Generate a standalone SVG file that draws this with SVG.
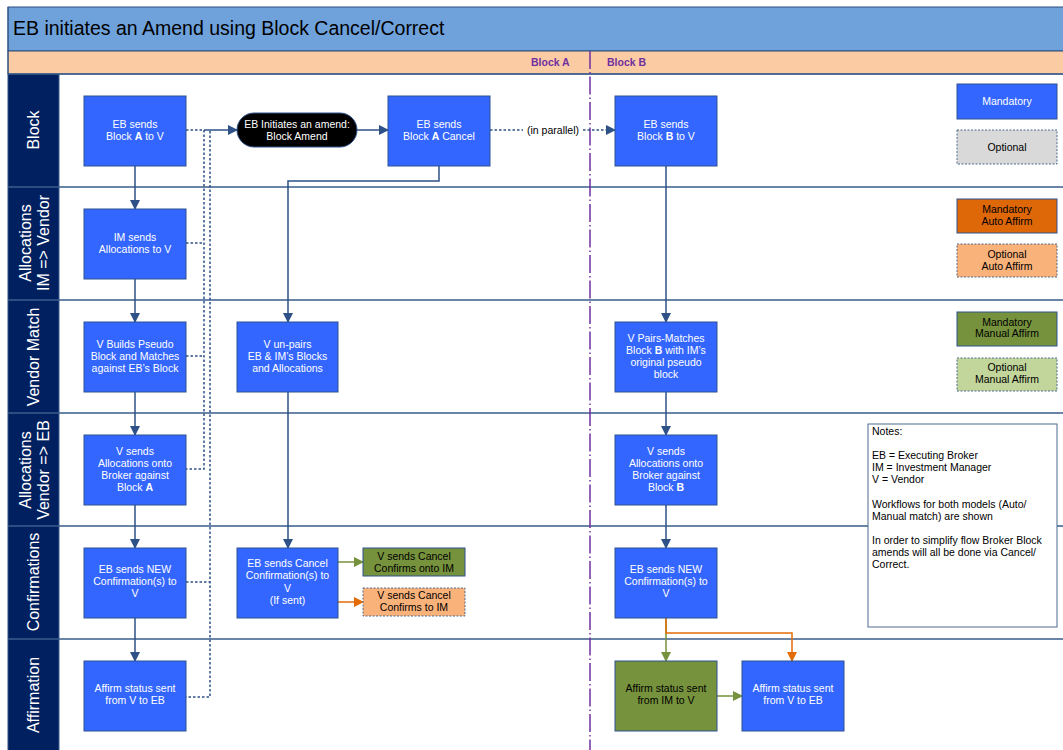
<svg xmlns="http://www.w3.org/2000/svg" width="1063" height="750" viewBox="0 0 1063 750">
<style>
text{font-family:"Liberation Sans",Arial,sans-serif}
.n{fill:#3366FF;stroke:#2F528F;stroke-width:1}
.nt{fill:#FFFFFF;font-size:10.5px;text-anchor:middle}
.bt{fill:#000000;font-size:10.5px;text-anchor:middle}
.lane{stroke:#3A5C8C;stroke-width:1.5}
.ll{fill:#FFFFFF;font-size:16px;text-anchor:middle}
.c{fill:none;stroke:#2E5287;stroke-width:1.5}
.d{fill:none;stroke:#2E5287;stroke-width:1.5;stroke-dasharray:2.5,2}
.nb{fill:#000;font-size:10.5px}
</style>
<defs>
<marker id="ah" markerWidth="10" markerHeight="10" refX="9" refY="5" orient="auto" markerUnits="userSpaceOnUse"><path d="M0,0 L10,5 L0,10 z" fill="#2E5287"/></marker>
<marker id="ag" markerWidth="10" markerHeight="10" refX="9" refY="5" orient="auto" markerUnits="userSpaceOnUse"><path d="M0,0 L10,5 L0,10 z" fill="#76923C"/></marker>
<marker id="ao" markerWidth="10" markerHeight="10" refX="9" refY="5" orient="auto" markerUnits="userSpaceOnUse"><path d="M0,0 L10,5 L0,10 z" fill="#E36C09"/></marker>
</defs>
<rect x="0" y="0" width="1063" height="750" fill="#FFFFFF"/>
<!-- title + header -->
<rect x="8" y="7" width="1060" height="44" fill="#6FA2DB" stroke="#2F4F7F" stroke-width="1"/>
<text x="13" y="35" font-size="19.5" fill="#000">EB initiates an Amend using Block Cancel/Correct</text>
<rect x="8" y="51" width="1060" height="23" fill="#FBCBA4" stroke="#2F4F7F" stroke-width="1"/>
<text x="531" y="66" font-size="10.5" font-weight="bold" fill="#7030A0">Block A</text>
<text x="607" y="66" font-size="10.5" font-weight="bold" fill="#7030A0">Block B</text>
<!-- lane labels -->
<rect x="8" y="74" width="51" height="680" fill="#002060"/>
<g id="lanes">
<line class="lane" x1="8" y1="74" x2="1063" y2="74"/>
<line class="lane" x1="8" y1="187" x2="1063" y2="187"/>
<line class="lane" x1="8" y1="300" x2="1063" y2="300"/>
<line class="lane" x1="8" y1="413" x2="1063" y2="413"/>
<line class="lane" x1="8" y1="526" x2="1063" y2="526"/>
<line class="lane" x1="8" y1="639" x2="1063" y2="639"/>
<line x1="59" y1="74" x2="59" y2="750" stroke="#3A5C8C" stroke-width="1"/>
<line x1="8" y1="7" x2="8" y2="750" stroke="#2F4F7F" stroke-width="1"/>
<text class="ll" transform="translate(39,130) rotate(-90)">Block</text>
<text class="ll" transform="translate(31,243) rotate(-90)">Allocations</text>
<text class="ll" transform="translate(49,243) rotate(-90)">IM =&gt; Vendor</text>
<text class="ll" transform="translate(39,357) rotate(-90)">Vendor Match</text>
<text class="ll" transform="translate(31,470) rotate(-90)">Allocations</text>
<text class="ll" transform="translate(49,470) rotate(-90)">Vendor =&gt; EB</text>
<text class="ll" transform="translate(39,582) rotate(-90)">Confirmations</text>
<text class="ll" transform="translate(39,695) rotate(-90)">Affirmation</text>
</g>
<!-- purple divider -->
<line x1="590" y1="51" x2="590" y2="750" stroke="#7030A0" stroke-width="1.5" stroke-dasharray="18,3,1.5,3"/>
<!-- connectors -->
<g id="connectors">
<path class="d" d="M186,130 H204 V469 H186"/>
<path class="d" d="M186,243 H204"/>
<path class="d" d="M186,356 H204"/>
<path class="d" d="M210,131 V697 H186"/>
<path class="d" d="M186,582 H210"/>
<path class="c" d="M204,130 H237" marker-end="url(#ah)"/>
<path class="c" d="M357,130 H388" marker-end="url(#ah)"/>
<path class="d" d="M490,130 H523"/>
<path class="d" d="M583,130 H615" marker-end="url(#ah)"/>
<path class="c" d="M135,166 V209" marker-end="url(#ah)"/>
<path class="c" d="M135,279 V322" marker-end="url(#ah)"/>
<path class="c" d="M135,392 V435" marker-end="url(#ah)"/>
<path class="c" d="M135,505 V548" marker-end="url(#ah)"/>
<path class="c" d="M135,618 V661" marker-end="url(#ah)"/>
<path class="c" d="M439,166 V181 H288 V322" marker-end="url(#ah)"/>
<path class="c" d="M288,392 V548" marker-end="url(#ah)"/>
<path fill="none" stroke="#76923C" stroke-width="1.5" d="M338,562 H363" marker-end="url(#ag)"/>
<path fill="none" stroke="#E36C09" stroke-width="1.5" d="M338,602 H363" marker-end="url(#ao)"/>
<path class="c" d="M666,166 V322" marker-end="url(#ah)"/>
<path class="c" d="M666,392 V435" marker-end="url(#ah)"/>
<path class="c" d="M666,505 V548" marker-end="url(#ah)"/>
<path fill="none" stroke="#76923C" stroke-width="1.5" d="M666,618 V661" marker-end="url(#ag)"/>
<path fill="none" stroke="#E36C09" stroke-width="1.5" d="M666,618 V633 H792 V661" marker-end="url(#ao)"/>
<path fill="none" stroke="#76923C" stroke-width="1.5" d="M717,696 H742" marker-end="url(#ag)"/>
<text x="553" y="134" font-size="10.5" text-anchor="middle" fill="#000">(in parallel)</text>
</g>
<!-- nodes -->
<g id="n-ebA"><rect class="n" x="84" y="96" width="102" height="70"/><text class="nt" x="135" y="128">EB sends</text><text class="nt" x="135" y="140">Block <tspan font-weight="bold">A</tspan> to V</text></g>
<g id="n-amend"><rect x="237" y="113" width="120" height="34" rx="17" fill="#000" stroke="#2F528F"/><text class="nt" x="297" y="128">EB Initiates an amend:</text><text class="nt" x="297" y="140">Block Amend</text></g>
<g id="n-cancelA"><rect class="n" x="388" y="96" width="102" height="70"/><text class="nt" x="439" y="128">EB sends</text><text class="nt" x="439" y="140">Block <tspan font-weight="bold">A</tspan> Cancel</text></g>
<g id="n-ebB"><rect class="n" x="615" y="96" width="102" height="70"/><text class="nt" x="666" y="128">EB sends</text><text class="nt" x="666" y="140">Block <tspan font-weight="bold">B</tspan> to V</text></g>
<g id="n-imA"><rect class="n" x="84" y="209" width="102" height="70"/><text class="nt" x="135" y="241">IM sends</text><text class="nt" x="135" y="253">Allocations to V</text></g>
<g id="n-vbuild"><rect class="n" x="84" y="322" width="102" height="70"/><text class="nt" x="135" y="348">V Builds Pseudo</text><text class="nt" x="135" y="360">Block and Matches</text><text class="nt" x="135" y="372">against EB’s Block</text></g>
<g id="n-unpair"><rect class="n" x="237" y="322" width="101" height="70"/><text class="nt" x="287.5" y="348">V un-pairs</text><text class="nt" x="287.5" y="360">EB &amp; IM’s Blocks</text><text class="nt" x="287.5" y="372">and Allocations</text></g>
<g id="n-pairB"><rect class="n" x="615" y="322" width="102" height="70"/><text class="nt" x="666" y="342">V Pairs-Matches</text><text class="nt" x="666" y="354">Block <tspan font-weight="bold">B</tspan> with IM’s</text><text class="nt" x="666" y="366">original pseudo</text><text class="nt" x="666" y="378">block</text></g>
<g id="n-allocA"><rect class="n" x="84" y="435" width="102" height="70"/><text class="nt" x="135" y="455">V sends</text><text class="nt" x="135" y="467">Allocations onto</text><text class="nt" x="135" y="479">Broker against</text><text class="nt" x="135" y="491">Block <tspan font-weight="bold">A</tspan></text></g>
<g id="n-allocB"><rect class="n" x="615" y="435" width="102" height="70"/><text class="nt" x="666" y="455">V sends</text><text class="nt" x="666" y="467">Allocations onto</text><text class="nt" x="666" y="479">Broker against</text><text class="nt" x="666" y="491">Block <tspan font-weight="bold">B</tspan></text></g>
<g id="n-confA"><rect class="n" x="84" y="548" width="102" height="70"/><text class="nt" x="135" y="573">EB sends NEW</text><text class="nt" x="135" y="585">Confirmation(s) to</text><text class="nt" x="135" y="597">V</text></g>
<g id="n-cancelconf"><rect class="n" x="237" y="548" width="101" height="70"/><text class="nt" x="287.5" y="567">EB sends Cancel</text><text class="nt" x="287.5" y="579">Confirmation(s) to</text><text class="nt" x="287.5" y="592">V</text><text class="nt" x="287.5" y="604">(If sent)</text></g>
<g id="n-cc-green"><rect x="363" y="548" width="102" height="28" fill="#76923C" stroke="#2F528F"/><text class="bt" x="414" y="560">V sends Cancel</text><text class="bt" x="414" y="572">Confirms onto IM</text></g>
<g id="n-cc-orange"><rect x="363" y="588" width="102" height="28" fill="#FAB27B" stroke="#4F6B8F" stroke-dasharray="2,1.5"/><text class="bt" x="414" y="599">V sends Cancel</text><text class="bt" x="414" y="611">Confirms to IM</text></g>
<g id="n-confB"><rect class="n" x="615" y="548" width="102" height="70"/><text class="nt" x="666" y="573">EB sends NEW</text><text class="nt" x="666" y="585">Confirmation(s) to</text><text class="nt" x="666" y="597">V</text></g>
<g id="n-affA"><rect class="n" x="84" y="661" width="102" height="70"/><text class="nt" x="135" y="692">Affirm status sent</text><text class="nt" x="135" y="704">from V to EB</text></g>
<g id="n-affIM"><rect x="615" y="661" width="102" height="70" fill="#76923C" stroke="#2F528F"/><text class="bt" x="666" y="692">Affirm status sent</text><text class="bt" x="666" y="704">from IM to V</text></g>
<g id="n-affVB"><rect class="n" x="742" y="661" width="102" height="70"/><text class="nt" x="793" y="692">Affirm status sent</text><text class="nt" x="793" y="704">from V to EB</text></g>
<!-- legend -->
<g id="legend-mandatory"><rect class="n" x="957" y="84" width="100" height="35"/><text class="nt" x="1007" y="105">Mandatory</text></g>
<g id="legend-optional"><rect x="957" y="130" width="100" height="34" fill="#D9D9D9" stroke="#4F6B8F" stroke-dasharray="2,1.5"/><text class="bt" x="1007" y="151">Optional</text></g>
<g id="legend-mauto"><rect x="957" y="199" width="100" height="34" fill="#DE6708" stroke="#2F528F"/><text class="bt" x="1007" y="213">Mandatory</text><text class="bt" x="1007" y="225">Auto Affirm</text></g>
<g id="legend-oauto"><rect x="957" y="244" width="100" height="33" fill="#FAB27B" stroke="#4F6B8F" stroke-dasharray="2,1.5"/><text class="bt" x="1007" y="258">Optional</text><text class="bt" x="1007" y="270">Auto Affirm</text></g>
<g id="legend-mmanual"><rect x="957" y="312" width="100" height="34" fill="#76923C" stroke="#2F528F"/><text class="bt" x="1007" y="326">Mandatory</text><text class="bt" x="1007" y="337">Manual Affirm</text></g>
<g id="legend-omanual"><rect x="957" y="358" width="100" height="33" fill="#C2D69B" stroke="#4F6B8F" stroke-dasharray="2,1.5"/><text class="bt" x="1007" y="371">Optional</text><text class="bt" x="1007" y="383">Manual Affirm</text></g>
<g id="notes"><rect x="868" y="424" width="189" height="203" fill="#FFFFFF" stroke="#4F6B8F" stroke-width="1"/>
<text class="nb" x="872" y="435">Notes:</text>
<text class="nb" x="872" y="459">EB = Executing Broker</text>
<text class="nb" x="872" y="471">IM = Investment Manager</text>
<text class="nb" x="872" y="483">V = Vendor</text>
<text class="nb" x="872" y="508">Workflows for both models (Auto/</text>
<text class="nb" x="872" y="520">Manual match) are shown</text>
<text class="nb" x="872" y="544">In order to simplify flow Broker Block</text>
<text class="nb" x="872" y="556">amends will all be done via Cancel/</text>
<text class="nb" x="872" y="568">Correct.</text>
</g>
</svg>
